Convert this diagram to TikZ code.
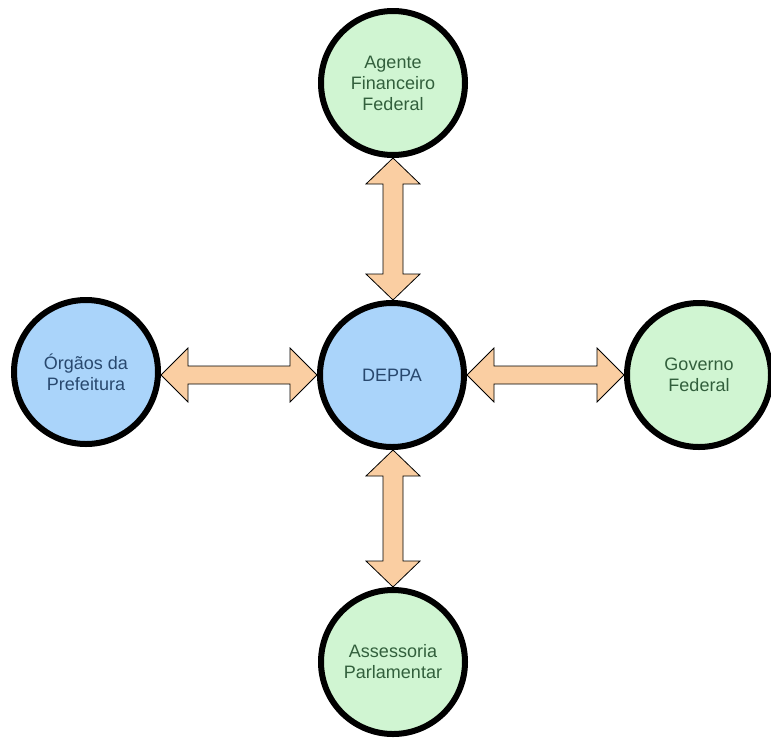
\documentclass[tikz,border=0pt]{standalone}
\usepackage{fontspec}
\setmainfont{Liberation Sans}
\usetikzlibrary{calc}
\definecolor{greenfill}{RGB}{208,245,210}
\definecolor{bluefill}{RGB}{170,212,250}
\definecolor{greentext}{RGB}{50,95,60}
\definecolor{bluetext}{RGB}{40,72,110}
\definecolor{arrowfill}{RGB}{250,206,162}
\tikzset{
  bubble/.style={circle, draw=black, line width=6pt, minimum size=144pt, inner sep=0pt,
    align=center, font=\fontsize{18}{21}\selectfont},
  greenb/.style={bubble, fill=greenfill, text=greentext},
  blueb/.style={bubble, fill=bluefill, text=bluetext},
  blockarrow/.style={draw=black, line width=0.8pt, fill=arrowfill, line join=miter}
}
\begin{document}
\begin{tikzpicture}[x=1pt,y=-1pt]
\useasboundingbox (0,0) rectangle (771,740);
\node[greenb] (T) at (393,83) {Agente\\Financeiro\\Federal};
\node[blueb]  (L) at (86,372) {Órgãos da\\Prefeitura};
\node[blueb]  (C) at (392,375) {DEPPA};
\node[greenb] (R) at (699,375) {Governo\\Federal};
\node[greenb] (B) at (393,662) {Assessoria\\Parlamentar};
% horizontal arrows
\draw[blockarrow] let \p1=($(C.center -| L.east)$), \p2=(C.west) in
  (\x1,\y2) -- (\x1+27,\y2+27) -- (\x1+27,\y2+9) -- (\x2-27,\y2+9) -- (\x2-27,\y2+27)
  -- (\x2,\y2) -- (\x2-27,\y2-27) -- (\x2-27,\y2-9) -- (\x1+27,\y2-9) -- (\x1+27,\y2-27) -- cycle;
\draw[blockarrow] let \p1=(C.east), \p2=($(C.center -| R.west)$) in
  (\x1,\y1) -- (\x1+27,\y1+27) -- (\x1+27,\y1+9) -- (\x2-27,\y1+9) -- (\x2-27,\y1+27)
  -- (\x2,\y1) -- (\x2-27,\y1-27) -- (\x2-27,\y1-9) -- (\x1+27,\y1-9) -- (\x1+27,\y1-27) -- cycle;
% vertical arrows
\draw[blockarrow] let \p1=(T.south), \p2=(C.north) in
  (\x1,\y1) -- (\x1+27,\y1-26) -- (\x1+10,\y1-26) -- (\x1+10,\y2+26) -- (\x1+27,\y2+26)
  -- (\x1,\y2) -- (\x1-27,\y2+26) -- (\x1-10,\y2+26) -- (\x1-10,\y1-26) -- (\x1-27,\y1-26) -- cycle;
\draw[blockarrow] let \p1=(C.south), \p2=(B.north) in
  (\x2,\y1) -- (\x2+27,\y1-26) -- (\x2+10,\y1-26) -- (\x2+10,\y2+26) -- (\x2+27,\y2+26)
  -- (\x2,\y2) -- (\x2-27,\y2+26) -- (\x2-10,\y2+26) -- (\x2-10,\y1-26) -- (\x2-27,\y1-26) -- cycle;
\end{tikzpicture}
\end{document}
